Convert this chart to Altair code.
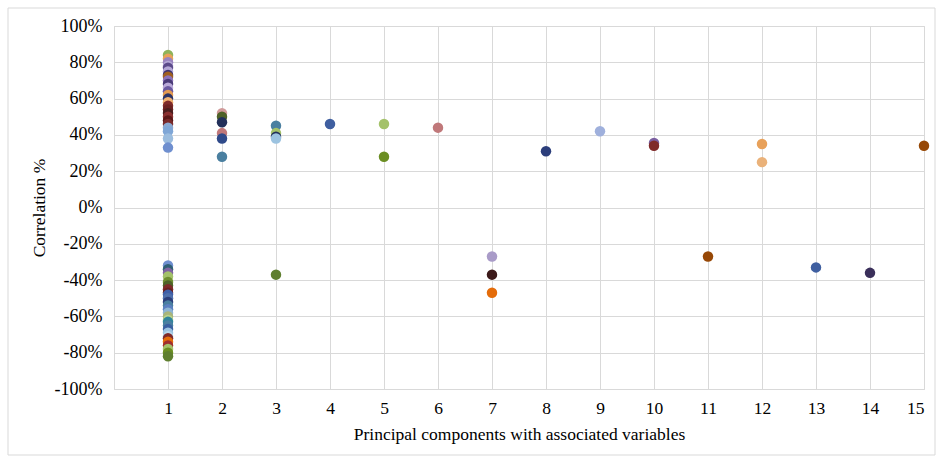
import altair as alt
import pandas as pd

# Principal component index for each variable
pc = (
    [1] * 25 + [1] * 27 +
    [2, 2, 2, 2, 2, 2] +
    [3, 3, 3, 3, 3] +
    [4] + [5, 5] + [6] + [7, 7, 7] + [8] + [9] + [10, 10] + [11] +
    [12, 12] + [13] + [14] + [15]
)

# Correlation values (%)
corr = (
    # PC1 positive
    [84, 82, 80, 78, 77, 75, 73, 72, 70, 68, 66, 64, 62, 60, 58, 56, 54, 52,
     50, 48, 46, 44, 42, 38, 33] +
    # PC1 negative
    [-32, -34, -36, -38, -41, -43, -45, -47, -48, -50, -52, -54, -56, -58,
     -60, -62, -63, -65, -67, -69, -71, -72, -74, -76, -78, -80, -82] +
    # PC2
    [52, 50, 47, 41, 38, 28] +
    # PC3
    [45, 41, 39, 38, -37] +
    [46] + [46, 28] + [44] + [-27, -37, -47] + [31] + [42] + [35.5, 34] +
    [-27] + [35, 25] + [-33] + [-36] + [34]
)

colors = (
    ["#8fb35a", "#e8a15a", "#9a84c0", "#b4a7d6", "#5b4a8a", "#b4a7d6",
     "#3f3470", "#a0601f", "#8c72b8", "#4a3a78", "#b9a9d9", "#6a58a0",
     "#e49a50", "#2d3466", "#f0b070", "#7f2a2a", "#6b2222", "#4a1e1e",
     "#8a3030", "#5a1818", "#7a2a2a", "#8aa8d0", "#7fa6d6", "#9bbcde",
     "#6f8fcf"] +
    ["#6f8fcf", "#2f5f74", "#8064a2", "#a4c26a", "#6f8f30", "#4f6228",
     "#7f2a2a", "#6a2020", "#3f5fa8", "#4f6fab", "#2c3e7b", "#4a7fa0",
     "#5b7fc0", "#8eb4d3", "#a9b57a", "#b9d38a", "#31859c", "#4a7fa0",
     "#3a5fa0", "#9cc3e0", "#b7d7ea", "#7f2a2a", "#e46c0a", "#a03030",
     "#a4c26a", "#6b8e23", "#5f7f2f"] +
    ["#d09a9a", "#4f6228", "#22305a", "#c0787a", "#2f4a8a", "#4a7fa0"] +
    ["#4a7fa0", "#a4c26a", "#22305a", "#9cc3e0", "#5f7f2f"] +
    ["#3f5fa0"] + ["#a4c26a", "#6b8e23"] + ["#c0787a"] +
    ["#a99bc8", "#3c1a1a", "#e46c0a"] + ["#2c3e7b"] + ["#9fb0dc"] +
    ["#7b5fa0", "#7f2a2a"] + ["#974806"] + ["#e8a15a", "#eab27a"] +
    ["#3f5fa0"] + ["#3a2f5a"] + ["#974806"]
)

x_ticks = list(range(0, 16))
y_ticks = [-1.0, -0.8, -0.6, -0.4, -0.2, 0.0, 0.2, 0.4, 0.6, 0.8, 1.0]

df = pd.DataFrame({"pc": pc, "corr": [c / 100 for c in corr], "color": colors})

FONT = "Liberation Serif"

frame = alt.Chart(pd.DataFrame({"a": [0]})).mark_rect(
    fill="transparent", stroke="#d9d9d9", strokeWidth=1
).encode(
    x=alt.value(-106), x2=alt.value(821), y=alt.value(-18), y2=alt.value(429)
)

points = alt.Chart(df).mark_circle(size=110, opacity=1).encode(
    x=alt.X(
        "pc:Q",
        scale=alt.Scale(domain=[0, 15], nice=False),
        axis=alt.Axis(
            values=x_ticks,
            labelExpr="datum.value == 0 ? '' : datum.label",
            title="Principal components with associated variables",
            grid=True, gridColor="#d9d9d9", domain=False, ticks=False,
            labelPadding=10, titlePadding=9,
            labelFont=FONT, labelFontSize=17.5, labelColor="#000000",
            titleFont=FONT, titleFontSize=17.5, titleFontWeight="normal",
            titleColor="#000000",
        ),
    ),
    y=alt.Y(
        "corr:Q",
        scale=alt.Scale(domain=[-1, 1], nice=False),
        axis=alt.Axis(
            values=y_ticks, format=".0%",
            labelExpr="replace(datum.label, '\u2212', '-')",
            title="Correlation %",
            grid=True, gridColor="#d9d9d9", domain=False, ticks=False,
            labelPadding=12, titlePadding=6,
            labelFont=FONT, labelFontSize=18, labelColor="#000000",
            titleFont=FONT, titleFontSize=17.5, titleFontWeight="normal",
            titleColor="#000000",
        ),
    ),
    color=alt.Color("color:N", scale=None),
)

chart = alt.layer(frame, points).properties(
    width=810, height=363,
    autosize=alt.AutoSizeParams(type="none"),
    padding={"left": 114, "top": 26, "right": 16, "bottom": 69},
    background="white",
).configure_view(stroke="#d9d9d9")

chart.save("out.html", embed_options={"renderer": "svg", "actions": False})
